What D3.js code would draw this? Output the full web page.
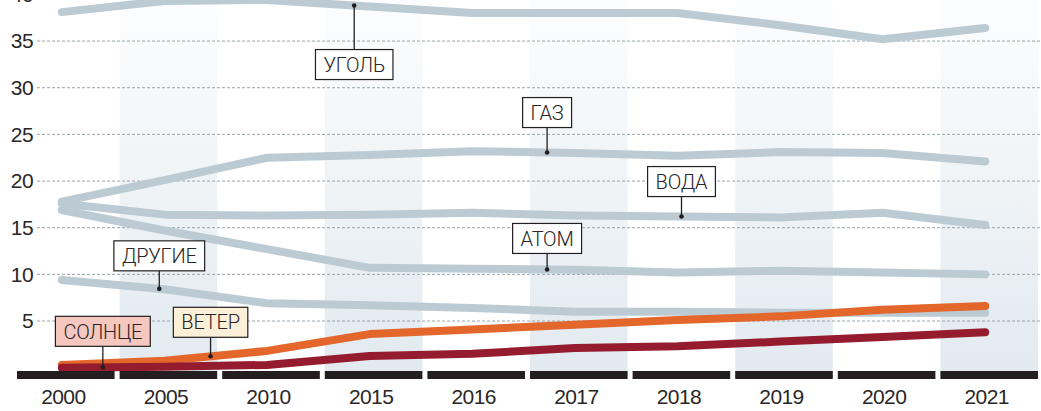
<!DOCTYPE html>
<html>
<head>
<meta charset="utf-8">
<script src="https://cdn.jsdelivr.net/npm/d3@7"></script>
<style>
  body { margin: 0; background: #fff; }
  svg { display: block; font-family: "Roboto Light", Roboto, "DejaVu Sans", sans-serif; }
  .tick text { fill: #2a2627; font-size: 21px; font-weight: 300; letter-spacing: -0.6px; }
  .lbl text { font-size: 20px; font-weight: 300; fill: #2a2627; letter-spacing: -0.2px; }
</style>
</head>
<body>
<div id="chart"></div>
<script>
// years on the x axis
var years = ['2000', '2005', '2010', '2015', '2016', '2017', '2018', '2019', '2020', '2021'];

// share of electricity generation, %
var coal    = [38.1, 39.3, 39.4, 38.7, 38.0, 38.0, 38.0, 36.7, 35.2, 36.4];
var gas     = [17.8, 20.1, 22.5, 22.8, 23.2, 23.0, 22.7, 23.1, 23.0, 22.1];
var hydro   = [17.6, 16.4, 16.3, 16.4, 16.6, 16.3, 16.2, 16.1, 16.6, 15.3];
var nuclear = [16.9, 14.7, 12.7, 10.7, 10.6, 10.5, 10.2, 10.4, 10.2, 10.0];
var other   = [9.4, 8.4, 6.9, 6.7, 6.4, 6.0, 6.0, 5.9, 5.9, 5.9];
var wind    = [0.3, 0.75, 1.8, 3.6, 4.1, 4.6, 5.1, 5.5, 6.2, 6.6];
var solar   = [0.0, 0.1, 0.3, 1.25, 1.5, 2.1, 2.3, 2.8, 3.3, 3.8];

var yTicks = [5, 10, 15, 20, 25, 30, 35, 40];

// annotation labels: series and position along the series (index)
var labelNames  = ['УГОЛЬ', 'ГАЗ', 'ВОДА', 'АТОМ', 'ДРУГИЕ', 'СОЛНЦЕ', 'ВЕТЕР'];
var labelSeries = ['coal', 'gas', 'hydro', 'nuclear', 'other', 'solar', 'wind'];
var labelPos    = [2.85, 4.73, 6.04, 4.73, 0.95, 0.40, 1.45];

var width = 1041, height = 411;

var series = {
  coal: coal, gas: gas, hydro: hydro, nuclear: nuclear,
  other: other, wind: wind, solar: solar
};
var colors = {
  coal: '#bccbd3', gas: '#bccbd3', hydro: '#bccbd3', nuclear: '#bccbd3',
  other: '#bccbd3', wind: '#e3672b', solar: '#951c2e'
};
var drawOrder = ['coal', 'gas', 'hydro', 'nuclear', 'other', 'wind', 'solar'];

var boxStyle = {
  coal:    { fill: '#fff', below: true,  gap: 44 },
  gas:     { fill: '#fff', below: false, gap: 25 },
  hydro:   { fill: '#fff', below: false, gap: 20 },
  nuclear: { fill: '#fff', below: false, gap: 16 },
  other:   { fill: '#fff', below: false, gap: 18 },
  solar:   { fill: '#f5c7be', below: false, gap: 21 },
  wind:    { fill: '#fdf0d8', below: false, gap: 19 }
};

var svg = d3.select('#chart').append('svg')
    .attr('width', width)
    .attr('height', height);

// Set the ranges
var xBand = d3.scaleBand().domain(years).range([14.5, 1040.5]);
function xPos(yr) { return xBand(yr) + xBand.bandwidth() / 2 - 4; }
var y = d3.scaleLinear().domain([0, 40]).range([367.7, -5.6]);

var axisY = 371;
var inset = 2.5;

// gradient for the shaded columns
var grad = svg.append('defs').append('linearGradient')
    .attr('id', 'band')
    .attr('gradientUnits', 'userSpaceOnUse')
    .attr('x1', 0).attr('y1', 0).attr('x2', 0).attr('y2', axisY);
grad.append('stop').attr('offset', 0).attr('stop-color', '#fcfdfe');
grad.append('stop').attr('offset', 1).attr('stop-color', '#e2eaf0');

svg.append('g').selectAll('rect')
  .data(years.filter(function(d, i) { return i % 2 === 1; }))
  .enter().append('rect')
    .attr('x', function(d) { return xBand(d) + inset; })
    .attr('y', 0)
    .attr('width', xBand.bandwidth() - 2 * inset)
    .attr('height', axisY)
    .attr('fill', 'url(#band)');

// grid lines
svg.append('g').selectAll('line')
  .data(yTicks)
  .enter().append('line')
    .attr('x1', 37).attr('x2', width)
    .attr('y1', function(d) { return y(d); })
    .attr('y2', function(d) { return y(d); })
    .attr('stroke', '#98a4ab')
    .attr('stroke-width', 1)
    .attr('stroke-dasharray', '3,2');

// y labels
svg.append('g')
    .attr('transform', 'translate(37,0)')
    .call(d3.axisLeft(y).tickValues(yTicks).tickSize(0).tickPadding(4))
    .call(function(g) { g.select('.domain').remove(); });

// lines
var line = d3.line()
    .x(function(d, i) { return xPos(years[i]); })
    .y(function(d) { return y(d); });

svg.append('g').selectAll('path')
  .data(drawOrder)
  .enter().append('path')
    .attr('d', function(k) { return line(series[k]); })
    .attr('fill', 'none')
    .attr('stroke', function(k) { return colors[k]; })
    .attr('stroke-width', 8)
    .attr('stroke-linecap', 'round')
    .attr('stroke-linejoin', 'round');

// black axis bars
svg.append('g').selectAll('rect')
  .data(years)
  .enter().append('rect')
    .attr('x', function(d) { return xBand(d) + inset; })
    .attr('y', axisY)
    .attr('width', xBand.bandwidth() - 2 * inset)
    .attr('height', 8)
    .attr('fill', '#231f20');

// x labels
svg.append('g')
    .attr('transform', 'translate(1,379)')
    .call(d3.axisBottom(d3.scalePoint().domain(years).range([xPos(years[0]), xPos(years[years.length - 1])]))
      .tickSize(0).tickPadding(10))
    .call(function(g) { g.select('.domain').remove(); });

// annotation labels
function valueAt(arr, t) {
  var i = Math.floor(t), f = t - i;
  if (i >= arr.length - 1) return arr[arr.length - 1];
  return arr[i] + (arr[i + 1] - arr[i]) * f;
}
function xAt(t) {
  var i = Math.floor(t), f = t - i;
  var x0 = xPos(years[i]), x1 = xPos(years[Math.min(i + 1, years.length - 1)]);
  return x0 + (x1 - x0) * f;
}

labelNames.forEach(function(name, i) {
  var key = labelSeries[i];
  var st = boxStyle[key];
  var px = xAt(labelPos[i]);
  var py = y(valueAt(series[key], labelPos[i]));
  var g = svg.append('g').attr('class', 'lbl');
  var boxH = 30;
  var boxTop = st.below ? py + st.gap : py - st.gap - boxH;

  g.append('line')
    .attr('x1', px).attr('x2', px)
    .attr('y1', py)
    .attr('y2', st.below ? boxTop : boxTop + boxH)
    .attr('stroke', '#231f20')
    .attr('stroke-width', 1.3);
  g.append('circle')
    .attr('cx', px).attr('cy', py).attr('r', 2.3)
    .attr('fill', '#231f20');

  var rect = g.append('rect');
  var txt = g.append('text')
    .attr('x', px)
    .attr('y', boxTop + boxH / 2)
    .attr('dy', '0.36em')
    .attr('text-anchor', 'middle')
    .text(name);
  var w = txt.node().getComputedTextLength() + 16;
  rect.attr('x', px - w / 2)
    .attr('y', boxTop)
    .attr('width', w)
    .attr('height', boxH)
    .attr('fill', st.fill)
    .attr('stroke', '#231f20')
    .attr('stroke-width', 1.2);
});
</script>
</body>
</html>
